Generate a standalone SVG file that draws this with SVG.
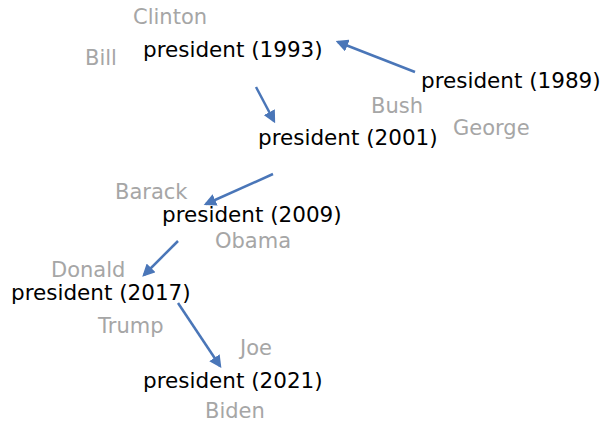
<svg xmlns="http://www.w3.org/2000/svg" width="602" height="425" viewBox="0 0 602 425">
<style>
.p{font-family:"DejaVu Sans",Verdana,sans-serif;font-size:21.5px;fill:#000}
.n{font-family:"DejaVu Sans",Verdana,sans-serif;font-size:21px;fill:#a6a6a6}
.c{stroke:#4a76b8;stroke-width:2.5;fill:none;marker-end:url(#ah)}
</style>
<defs>
<marker id="ah" viewBox="0 0 10 10" refX="8" refY="5" markerWidth="5" markerHeight="5" orient="auto" markerUnits="strokeWidth">
<path d="M0,0 L10,5 L0,10 z" fill="#4a76b8"/>
</marker>
</defs>
<g id="connectors">
<line class="c" x1="415" y1="72" x2="338" y2="42"/>
<line class="c" x1="256" y1="87" x2="274" y2="121"/>
<line class="c" x1="273" y1="174" x2="206" y2="204"/>
<line class="c" x1="178" y1="241" x2="144" y2="275"/>
<line class="c" x1="178" y1="303" x2="220" y2="366"/>
</g>
<g id="n1989"><text class="p" x="421" y="88">president (1989)</text><text class="n" x="371" y="113">Bush</text><text class="n" x="453" y="135">George</text></g>
<g id="n1993"><text class="p" x="143" y="57">president (1993)</text><text class="n" x="133" y="24">Clinton</text><text class="n" x="85" y="65">Bill</text></g>
<g id="n2001"><text class="p" x="258" y="145">president (2001)</text></g>
<g id="n2009"><text class="p" x="162" y="222">president (2009)</text><text class="n" x="115" y="199">Barack</text><text class="n" x="215" y="248">Obama</text></g>
<g id="n2017"><text class="p" x="11" y="300">president (2017)</text><text class="n" x="51" y="277">Donald</text><text class="n" x="98" y="333">Trump</text></g>
<g id="n2021"><text class="p" x="143" y="388">president (2021)</text><text class="n" x="240" y="355">Joe</text><text class="n" x="205" y="418">Biden</text></g>
</svg>
